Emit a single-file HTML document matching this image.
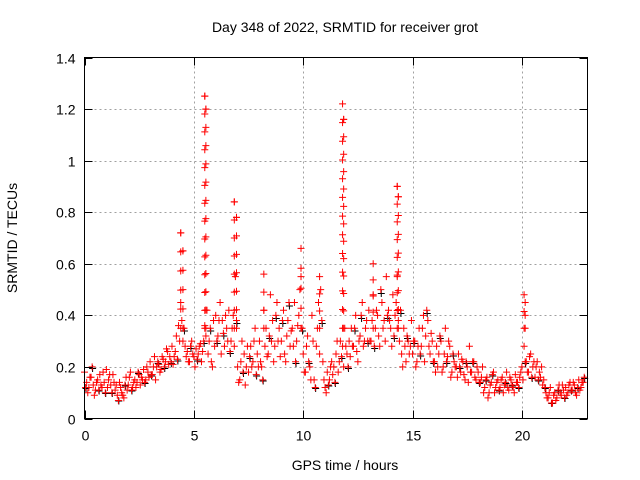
<!DOCTYPE html>
<html><head><meta charset="utf-8"><style>
body{margin:0;background:#fff}
svg{display:block;font-family:"Liberation Sans",sans-serif}
</style></head><body>
<svg id="chart" width="640" height="480" viewBox="0 0 640 480">
<rect width="640" height="480" fill="#fff"/>
<g id="grid"></g>
<g id="marks"></g>
<rect x="84.5" y="57.5" width="503" height="361" fill="none" stroke="#000" stroke-width="1"/>
<g id="ticks" font-size="14" fill="#000"></g>
<text x="345" y="32" text-anchor="middle" font-size="14">Day 348 of 2022, SRMTID for receiver grot</text>
<text x="345" y="470" text-anchor="middle" font-size="14">GPS time / hours</text>
<text x="17" y="238" text-anchor="middle" font-size="14" transform="rotate(-90 17 238)">SRMTID / TECUs</text>
</svg>
<script>
const xTicks=[0,5,10,15,20];
const yTicks=[0,0.2,0.4,0.6,0.8,1,1.2,1.4];
const yTickLabels=["0","0.2","0.4","0.6","0.8","1","1.2","1.4"];
const valsA=[.18,.14,.12,.16,.13,.11,.15,.17,.12,.14,
.19,.15,.13,.17,.11,.09,.14,.10,.08,.16,
.13,.18,.12,.15,.14,.17,.16,.19,.15,.18,
.22,.17,.24,.20,.21,.19,.23,.22,.26,.24,
.28,.24,.32,.36,.45,.30,.28,.26,.22,.30,
.24,.27,.25,.29,.26,.36,.42,.30,.22,.38,
.40,.32,.45,.38,.28,.35,.42,.30,.40,.55,
.20,.15,.30,.25,.20,.18,.28,.22,.35,.25,
.30,.20,.42,.35,.25,.48,.38,.28,.45,.35,
.30,.42,.22,.38,.28,.35,.45,.30,.40,.55,
.25,.18,.32,.20,.40,.15,.28,.45,.50,.22,
.12,.18,.15,.22,.20,.25,.18,.30,.28,.35,
.25,.30,.35,.28,.40,.22,.32,.45,.30,.38,
.42,.30,.48,.35,.40,.28,.45,.38,.55,.42,
.35,.48,.40,.55,.30,.25,.35,.22,.30,.28,
.25,.30,.22,.35,.28,.40,.32,.38,.25,.30,
.22,.28,.25,.30,.20,.35,.24,.28,.18,.22,
.20,.25,.18,.22,.15,.20,.28,.18,.22,.15,
.18,.14,.20,.12,.16,.10,.14,.18,.12,.15,
.12,.16,.13,.18,.11,.15,.12,.17,.14,.16,
.20,.28,.22,.18,.25,.20,.16,.22,.18,.20,
.15,.10,.08,.12,.06,.10,.08,.13,.09,.11,
.12,.10,.14,.11,.13,.09,.15,.12,.14];
const valsB=[.12,.10,.16,.20,.09,.14,.11,.13,.18,.10,
.12,.17,.10,.14,.13,.07,.12,.09,.13,.11,
.16,.11,.14,.12,.18,.13,.15,.14,.20,.16,
.17,.20,.15,.22,.18,.24,.20,.27,.21,.22,
.21,.26,.23,.30,.38,.35,.24,.22,.28,.25,
.20,.23,.28,.22,.30,.32,.25,.35,.20,.28,
.30,.38,.25,.33,.40,.30,.26,.35,.28,.38,
.14,.22,.18,.13,.28,.24,.20,.30,.17,.20,
.22,.15,.28,.24,.32,.30,.22,.40,.30,.24,
.38,.25,.32,.45,.34,.28,.22,.36,.50,.35,
.18,.28,.22,.15,.30,.12,.35,.25,.38,.15,
.10,.13,.20,.17,.14,.30,.22,.24,.20,.28,
.20,.24,.28,.35,.26,.30,.40,.28,.35,.30,
.30,.38,.28,.42,.32,.50,.35,.30,.40,.38,
.28,.32,.45,.38,.42,.20,.28,.32,.25,.38,
.30,.20,.28,.25,.35,.22,.42,.28,.33,.22,
.18,.20,.32,.18,.25,.22,.30,.16,.25,.20,
.16,.20,.23,.17,.22,.14,.18,.22,.16,.20,
.14,.16,.10,.15,.08,.13,.17,.10,.14,.11,
.15,.10,.14,.12,.16,.13,.10,.14,.12,.18,
.15,.22,.18,.24,.16,.22,.20,.15,.16,.13,
.12,.08,.10,.06,.09,.07,.11,.10,.13,.08,
.09,.13,.11,.14,.10,.12,.11,.14,.16];
const spikeT=[4.4,4.5,5.5,5.55,6.85,6.95,9.9,10.75,11.8,11.85,14.3,14.35,20.1,20.15,13.2,8.2];
const spikePeak=[.72,.65,1.25,1.2,.84,.78,.66,.55,1.22,1.16,.90,.86,.48,.45,.60,.56];

const X0=84.5,X1=587.5,Y0=418.5,Y1=57.5,XMAX=23,YMAX=1.4;
const sx=t=>X0+(X1-X0)*t/XMAX;
const sy=v=>Y0-(Y0-Y1)*v/YMAX;
const NS="http://www.w3.org/2000/svg";
const grid=document.getElementById('grid'),ticks=document.getElementById('ticks'),marks=document.getElementById('marks');
function mk(tag,attrs,parent){const e=document.createElementNS(NS,tag);for(const k in attrs)e.setAttribute(k,attrs[k]);parent.appendChild(e);return e;}
yTicks.forEach((v,i)=>{
  const y=Math.round(sy(v))+0.5;
  if(i>0&&i<yTicks.length-1){const g=mk('line',{x1:X0,x2:X1,y1:y,y2:y,stroke:'#a0a0a0','stroke-dasharray':'2,3'},grid);
  
  }
  mk('line',{x1:X0,x2:X0+8,y1:y,y2:y,stroke:'#000'},ticks);
  mk('line',{x1:X1-8,x2:X1,y1:y,y2:y,stroke:'#000'},ticks);
  const t=mk('text',{x:X0-9,y:y+5,'text-anchor':'end'},ticks);t.textContent=yTickLabels[i];
  
  
});
xTicks.forEach(v=>{
  const x=Math.round(sx(v))+0.5;
  if(v>0){const g=mk('line',{x1:x,x2:x,y1:Y0,y2:Y1,stroke:'#a0a0a0','stroke-dasharray':'2,3'},grid);
  
  }
  mk('line',{x1:x,x2:x,y1:Y0,y2:Y0-8,stroke:'#000'},ticks);
  mk('line',{x1:x,x2:x,y1:Y1,y2:Y1+8,stroke:'#000'},ticks);
  const t=mk('text',{x:x,y:Y0+22,'text-anchor':'middle'},ticks);t.textContent=String(v);
  
  
});
function cross(t,v,color){
  const x=sx(t),y=sy(v);
  const p=mk('path',{d:`M${x-3.5} ${y}H${x+3.5}M${x} ${y-3.5}V${y+3.5}`,stroke:color,'stroke-width':1,fill:'none'},marks);
  
  
}
valsB.forEach((v,i)=>{if(i%3===0)cross(i*0.1+0.07,v*0.97,'#000');});
valsA.forEach((v,i)=>cross(i*0.1,v,'#f00'));
valsB.forEach((v,i)=>cross(i*0.1+0.05,v,'#f00'));
spikeT.forEach((t,i)=>{const p=spikePeak[i];const step=(p-0.35)/Math.max(2,Math.round((p-0.35)/0.07));for(let v=0.35;v<p;v+=step)cross(t,v,'#f00');cross(t,p,'#f00');});
</script>
</body></html>
